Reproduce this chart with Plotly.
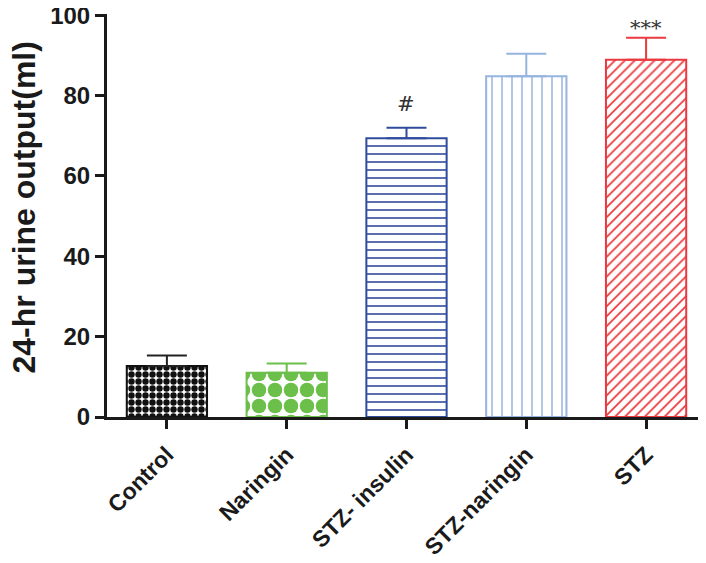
import plotly.graph_objects as go

# data
groups = ["Control", "Naringin", "STZ- insulin", "STZ-naringin", "STZ"]
means = [12.7, 11.0, 69.4, 84.8, 88.9]
sem = [2.6, 2.3, 2.6, 5.6, 5.5]
marks = ["", "", "#", "", "***"]
y_ticks = [0, 20, 40, 60, 80, 100]

colors = ["#111111", "#6cbf4a", "#2f4b9c", "#96b4de", "#ea3a3f"]
err_colors = ["#222222", "#6cbf4a", "#2f4b9c", "#96b4de", "#ea3a3f"]
shapes = [".", ".", "-", "|", "/"]
sizes = [7, 16, 8, 10, 7]
solid = [0.65, 0.65, 0.2, 0.15, 0.25]
mark_shift = {"#": 24, "***": 10}

fig = go.Figure()

for i, g in enumerate(groups):
    fig.add_trace(go.Bar(
        x=[g], y=[means[i]],
        width=0.67,
        marker=dict(
            color="white",
            line=dict(color=colors[i], width=2),
            pattern=dict(shape=shapes[i], fgcolor=colors[i], bgcolor="white",
                         size=sizes[i], solidity=solid[i], fillmode="replace"),
        ),
        error_y=dict(type="data", symmetric=False, array=[sem[i]], arrayminus=[0],
                     color=err_colors[i], thickness=2, width=20),
        showlegend=False,
    ))

# significance marks above the error bars
for i, g in enumerate(groups):
    if marks[i]:
        fig.add_annotation(x=g, y=means[i] + sem[i], text=marks[i], showarrow=False,
                           yshift=mark_shift[marks[i]],
                           font=dict(family="DejaVu Serif", size=21, color="#333333"))

# y title as a rotated annotation so it can sit close to the left edge
fig.add_annotation(xref="paper", yref="paper", x=0, y=0.5, xshift=-84, yshift=8,
                   xanchor="center", yanchor="middle",
                   text="24-hr urine output(ml)", textangle=-90, showarrow=False,
                   font=dict(family="Arial, Liberation Sans", size=32, weight="bold",
                             color="#1a1a1a"))

fig.update_layout(
    width=706, height=563,
    margin=dict(l=99, r=14, t=6, b=154),
    plot_bgcolor="white", paper_bgcolor="white",
    font=dict(family="Arial, Liberation Sans", color="#1a1a1a"),
)

fig.update_xaxes(
    range=[-0.5, 4.45],
    automargin=False,
    showline=True, linecolor="#1a1a1a", linewidth=3,
    ticks="outside", ticklen=9, tickwidth=3, tickcolor="#1a1a1a",
    tickangle=-45, ticklabelstandoff=3,
    tickfont=dict(family="Arial, Liberation Sans", size=23, weight="bold"),
)

fig.update_yaxes(
    range=[0, 100.3],
    automargin=False,
    tickvals=y_ticks,
    ticklabeloverflow="allow",
    showgrid=False, zeroline=False,
    showline=True, linecolor="#1a1a1a", linewidth=3,
    ticks="outside", ticklen=9, tickwidth=3, tickcolor="#1a1a1a",
    tickfont=dict(family="Arial, Liberation Sans", size=24, weight="bold"),
)

fig.write_html("out.html")
